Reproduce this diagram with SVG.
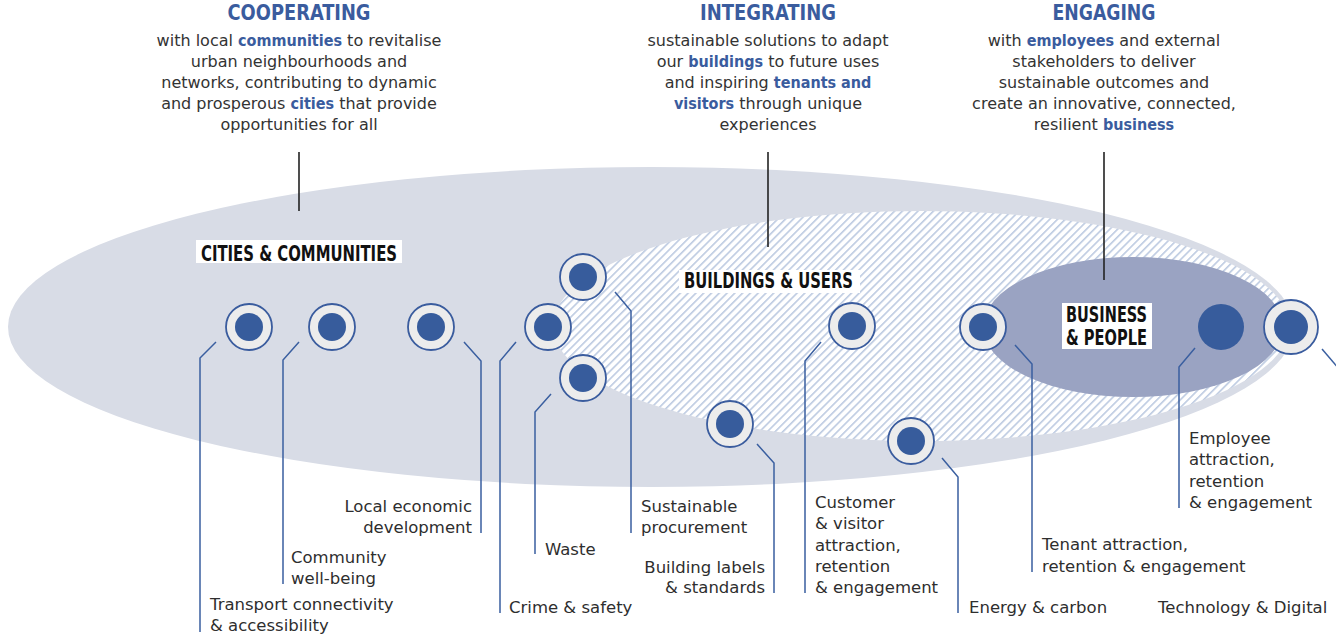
<svg xmlns="http://www.w3.org/2000/svg" width="1336" height="635" viewBox="0 0 1336 635">
<defs>
<style>
.hd{font-family:"DejaVu Sans Condensed","DejaVu Sans","Liberation Sans",sans-serif;font-stretch:condensed;font-weight:bold;font-size:20.5px;fill:#3a5c9e;text-anchor:middle}
.body{font-family:"DejaVu Sans","Liberation Sans",sans-serif;font-size:16px;fill:#333;text-anchor:middle}
.b{font-family:"DejaVu Sans Condensed","DejaVu Sans",sans-serif;font-stretch:condensed;font-weight:bold;fill:#3a5c9e}
.tag{font-family:"DejaVu Sans Condensed","DejaVu Sans","Liberation Sans",sans-serif;font-stretch:condensed;font-weight:bold;font-size:21px;fill:#111}
.lbl{font-family:"DejaVu Sans","Liberation Sans",sans-serif;font-size:16.5px;fill:#2e2e2e}
.end{text-anchor:end}
.ring{fill:#ececec;stroke:#3a5c9e;stroke-width:1.8}
.dot{fill:#375c9c}
.con{fill:none;stroke:#3a5fa0;stroke-width:1.5}
.tick{stroke:#222;stroke-width:1.6}
</style>
<pattern id="hatch" patternUnits="userSpaceOnUse" width="5.5" height="5.5" patternTransform="rotate(45)">
<rect width="5.5" height="5.5" fill="#ffffff"/>
<rect x="0" y="0" width="1.6" height="5.5" fill="#bccae1"/>
</pattern>
</defs>
<rect width="1336" height="635" fill="#ffffff"/>

<g id="areas">
<ellipse cx="651" cy="327" rx="643" ry="160" fill="#d8dce6"/>
<ellipse cx="921" cy="326" rx="368" ry="115" fill="url(#hatch)"/>
<ellipse cx="1133" cy="327" rx="150" ry="70" fill="#9aa3c2"/>
</g>

<g id="header-cooperating">
<text class="hd" x="299" y="20" textLength="143" lengthAdjust="spacingAndGlyphs">COOPERATING</text>
<text class="body" x="299" y="46">with local <tspan class="b">communities</tspan> to revitalise</text>
<text class="body" x="299" y="67">urban neighbourhoods and</text>
<text class="body" x="299" y="88">networks, contributing to dynamic</text>
<text class="body" x="299" y="109">and prosperous <tspan class="b">cities</tspan> that provide</text>
<text class="body" x="299" y="130">opportunities for all</text>
<line class="tick" x1="299" y1="152" x2="299" y2="211"/>
</g>

<g id="header-integrating">
<text class="hd" x="768" y="20" textLength="136" lengthAdjust="spacingAndGlyphs">INTEGRATING</text>
<text class="body" x="768" y="46">sustainable solutions to adapt</text>
<text class="body" x="768" y="67">our <tspan class="b">buildings</tspan> to future uses</text>
<text class="body" x="768" y="88">and inspiring <tspan class="b">tenants and</tspan></text>
<text class="body" x="768" y="109"><tspan class="b">visitors</tspan> through unique</text>
<text class="body" x="768" y="130">experiences</text>
<line class="tick" x1="768" y1="152" x2="768" y2="247"/>
</g>

<g id="header-engaging">
<text class="hd" x="1104" y="20" textLength="103" lengthAdjust="spacingAndGlyphs">ENGAGING</text>
<text class="body" x="1104" y="46">with <tspan class="b">employees</tspan> and external</text>
<text class="body" x="1104" y="67">stakeholders to deliver</text>
<text class="body" x="1104" y="88">sustainable outcomes and</text>
<text class="body" x="1104" y="109">create an innovative, connected,</text>
<text class="body" x="1104" y="130">resilient <tspan class="b">business</tspan></text>
<line class="tick" x1="1104" y1="152" x2="1104" y2="280"/>
</g>

<g id="label-cities">
<rect x="196" y="240" width="206" height="23" fill="#ffffff"/>
<text class="tag" x="201" y="261" textLength="196" lengthAdjust="spacingAndGlyphs">CITIES &amp; COMMUNITIES</text>
</g>
<g id="label-buildings">
<rect x="679" y="270" width="181" height="23" fill="#ffffff"/>
<text class="tag" x="684" y="288" textLength="169" lengthAdjust="spacingAndGlyphs">BUILDINGS &amp; USERS</text>
</g>
<g id="label-business">
<rect x="1062" y="303" width="90" height="46" fill="#ffffff"/>
<text class="tag" x="1066" y="322" textLength="81" lengthAdjust="spacingAndGlyphs">BUSINESS</text>
<text class="tag" x="1066" y="345" textLength="81" lengthAdjust="spacingAndGlyphs">&amp; PEOPLE</text>
</g>

<g id="connectors">
<path class="con" d="M216,342 L200,358 L200,632"/>
<path class="con" d="M299,342 L283,360 L283,584"/>
<path class="con" d="M464,342 L481,361 L481,533"/>
<path class="con" d="M516,342 L500,361 L500,613"/>
<path class="con" d="M615,292 L631,311 L631,533"/>
<path class="con" d="M551,394 L535,412 L535,554"/>
<path class="con" d="M821,342 L805,361 L805,593"/>
<path class="con" d="M757,444 L774,463 L774,593"/>
<path class="con" d="M942,458 L958,477 L958,613"/>
<path class="con" d="M1015,345 L1032,364 L1032,572"/>
<path class="con" d="M1195,348 L1179,367 L1179,508"/>
<path class="con" d="M1322,349 L1340,370"/>
</g>

<g id="n-transport"><circle class="ring" cx="249" cy="327" r="23"/><circle class="dot" cx="249" cy="327" r="14"/>
<text class="lbl" x="210" y="610">Transport connectivity</text><text class="lbl" x="210" y="631">&amp; accessibility</text></g>
<g id="n-community"><circle class="ring" cx="332" cy="327" r="23"/><circle class="dot" cx="332" cy="327" r="14"/>
<text class="lbl" x="291" y="563">Community</text><text class="lbl" x="291" y="584">well-being</text></g>
<g id="n-local"><circle class="ring" cx="431" cy="327" r="23"/><circle class="dot" cx="431" cy="327" r="14"/>
<text class="lbl end" x="472" y="512">Local economic</text><text class="lbl end" x="472" y="533">development</text></g>
<g id="n-crime"><circle class="ring" cx="548" cy="327" r="23"/><circle class="dot" cx="548" cy="327" r="14"/>
<text class="lbl" x="509" y="613">Crime &amp; safety</text></g>
<g id="n-procurement"><circle class="ring" cx="583" cy="277" r="23"/><circle class="dot" cx="583" cy="277" r="14"/>
<text class="lbl" x="641" y="512">Sustainable</text><text class="lbl" x="641" y="533">procurement</text></g>
<g id="n-waste"><circle class="ring" cx="583" cy="378" r="23"/><circle class="dot" cx="583" cy="378" r="14"/>
<text class="lbl" x="545" y="555">Waste</text></g>
<g id="n-customer"><circle class="ring" cx="852" cy="326" r="23"/><circle class="dot" cx="852" cy="326" r="14"/>
<text class="lbl" x="815" y="508">Customer</text><text class="lbl" x="815" y="529">&amp; visitor</text><text class="lbl" x="815" y="551">attraction,</text><text class="lbl" x="815" y="572">retention</text><text class="lbl" x="815" y="593">&amp; engagement</text></g>
<g id="n-labels"><circle class="ring" cx="730" cy="424" r="23"/><circle class="dot" cx="730" cy="424" r="14"/>
<text class="lbl end" x="765" y="573">Building labels</text><text class="lbl end" x="765" y="593">&amp; standards</text></g>
<g id="n-energy"><circle class="ring" cx="911" cy="441" r="23"/><circle class="dot" cx="911" cy="441" r="14"/>
<text class="lbl" x="969" y="613">Energy &amp; carbon</text></g>
<g id="n-tenant"><circle class="ring" cx="983" cy="327" r="23"/><circle class="dot" cx="983" cy="327" r="14"/>
<text class="lbl" x="1042" y="550">Tenant attraction,</text><text class="lbl" x="1042" y="572">retention &amp; engagement</text></g>
<g id="n-employee"><circle class="dot" cx="1221" cy="327" r="23"/>
<text class="lbl" x="1189" y="444">Employee</text><text class="lbl" x="1189" y="465">attraction,</text><text class="lbl" x="1189" y="487">retention</text><text class="lbl" x="1189" y="508">&amp; engagement</text></g>
<g id="n-technology"><circle class="ring" cx="1291" cy="327" r="27"/><circle class="dot" cx="1291" cy="327" r="17"/>
<text class="lbl" x="1158" y="613">Technology &amp; Digital</text></g>
</svg>
